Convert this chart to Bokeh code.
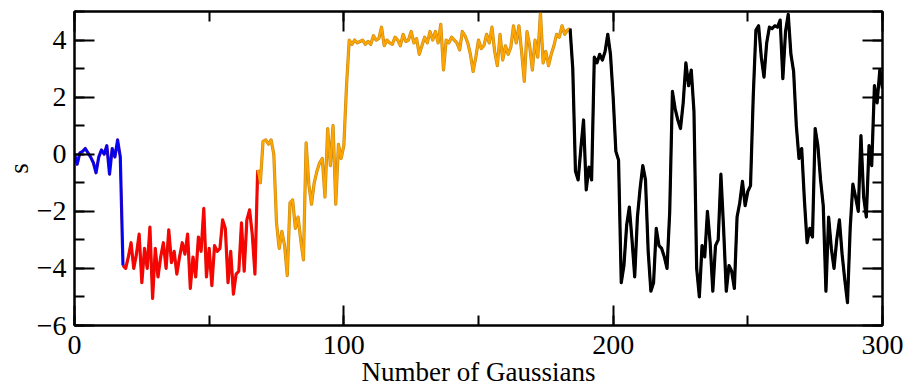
from bokeh.plotting import figure
from bokeh.models import Range1d, SingleIntervalTicker, LinearAxis, CustomJSTickFormatter
from bokeh.embed import file_html
from bokeh.resources import INLINE

x_blue = list(range(0, 19))
s_blue = [0.0, -0.35, 0.05, 0.1, 0.2, 0.05, -0.1, -0.3, -0.65, -0.1, 0.15, 0.0, 0.3, -0.7, 0.2, -0.1, 0.5, -0.1, -3.9]

x_red = list(range(18, 69))
s_red = [-3.9, -4.0, -3.6, -3.1, -4.0, -3.5, -2.8, -4.5, -3.3, -4.0,
         -2.55, -5.05, -3.3, -4.3, -3.6, -3.1, -4.0, -2.65, -3.8, -3.4,
         -4.2, -3.6, -3.1, -3.5, -2.8, -4.7, -3.6, -4.3, -2.9, -3.4,
         -1.9, -4.3, -3.3, -4.6, -3.2, -3.4, -3.3, -2.3, -2.6, -4.5,
         -3.4, -4.9, -4.2, -4.1, -2.4, -4.1, -2.3, -1.95, -2.8, -4.2,
         -0.55]

x_orange = list(range(68, 185))
s_orange = [-0.55, -1.0, 0.45, 0.5, 0.35, 0.5, 0.0, -2.4, -3.3, -2.7,
            -3.2, -4.25, -1.7, -1.6, -2.6, -2.2, -3.0, -3.7, 0.4, -1.05,
            -1.75, -1.0, -0.6, -0.3, -0.15, -1.5, 0.9, -0.4, 1.0, -1.75,
            0.35, -0.15, 0.3, 2.4, 4.0, 3.85, 4.0, 3.9, 3.95, 4.0,
            3.85, 3.95, 3.85, 4.15, 4.0, 4.05, 4.45, 3.8, 4.0, 3.9,
            3.85, 4.1, 4.0, 3.8, 4.2, 3.95, 4.0, 4.3, 3.9, 4.05,
            3.5, 3.8, 4.1, 3.9, 4.3, 4.0, 4.3, 3.9, 4.55, 2.95,
            4.0, 3.9, 4.1, 4.0, 3.9, 3.65, 4.3, 4.15, 3.9, 3.5,
            2.9, 3.4, 4.0, 3.7, 3.8, 4.2, 3.9, 4.45, 3.6, 3.1,
            4.2, 3.3, 3.8, 3.5, 3.75, 4.5, 3.9, 4.5, 3.6, 2.55,
            4.3, 3.8, 2.95, 4.0, 3.4, 4.95, 3.2, 3.6, 3.1, 3.5,
            3.8, 4.2, 4.1, 4.5, 4.2, 4.35, 4.4]

x_black = list(range(184, 301))
s_black = [4.4, 3.0, -0.6, -0.9, 0.2, 1.2, -1.25, -0.45, -0.9, 3.4,
           3.2, 3.5, 3.3, 3.6, 4.2, 3.5, 2.0, 0.1, -0.2, -4.5,
           -3.9, -2.5, -1.85, -3.0, -4.3, -2.2, -1.2, -0.4, -0.9, -3.4,
           -4.8, -4.5, -2.6, -3.2, -3.3, -3.6, -4.0, -2.0, 2.2, 1.6,
           1.2, 0.9, 1.8, 3.2, 2.4, 2.95, 1.5, -4.0, -5.0, -3.2,
           -3.6, -2.0, -3.1, -4.8, -3.2, -3.0, -0.7, -2.6, -4.8, -3.9,
           -4.1, -4.7, -2.2, -1.7, -0.95, -1.8, -1.3, -1.1, 2.0, 4.35,
           4.5, 3.4, 2.7, 3.9, 4.45, 4.4, 4.5, 4.45, 4.7, 2.65,
           4.3, 4.9, 3.5, 2.9, 1.0, -0.15, 0.2, -1.6, -3.1, -2.6,
           -2.9, 0.9, 0.3, -0.9, -1.8, -4.8, -2.2, -3.3, -4.0, -3.0,
           -2.3, -3.5, -4.4, -5.2, -2.6, -1.05, -1.5, -2.0, 0.65, -1.5,
           -2.2, 0.3, -0.4, 2.4, 1.8, 2.95, 2.3]

x_label = "Number of Gaussians"
y_label = "s"

FONT = "Liberation Serif"

p = figure(width=908, height=389, output_backend="svg", toolbar_location=None,
           x_range=Range1d(0, 300), y_range=Range1d(-6, 5),
           min_border_left=72, min_border_right=26, min_border_top=11, min_border_bottom=58)
p.grid.visible = False
p.background_fill_color = "white"
p.border_fill_color = "white"
p.outline_line_color = "black"
p.outline_line_width = 2

series = [(x_blue, s_blue, "#0000ff", "#3a10a0"), (x_red, s_red, "#ff0000", "#d81a10"),
          (x_orange, s_orange, "#ffa500", "#c48a1c"), (x_black, s_black, "#000000", "#000000")]
for xs, ys, col, edge in series:
    p.line(xs, ys, line_color=edge, line_width=3.2, line_join="round")
for xs, ys, col, edge in series:
    p.line(xs, ys, line_color=col, line_width=2.0, line_join="round")

def style(ax, show_labels):
    ax.major_tick_in = 20
    ax.major_tick_out = 0
    ax.minor_tick_in = 10
    ax.minor_tick_out = 0
    ax.major_tick_line_width = 2
    ax.minor_tick_line_width = 2
    ax.axis_line_width = 2
    ax.major_tick_line_color = "black"
    ax.minor_tick_line_color = "black"
    ax.axis_line_color = "black"
    ax.major_label_text_font = FONT
    ax.axis_label_text_font = FONT
    ax.axis_label_text_font_style = "normal"
    ax.major_label_text_color = "black"
    ax.axis_label_text_color = "black"
    if show_labels:
        ax.major_label_text_font_size = "28px"
        ax.axis_label_text_font_size = "27px"
    else:
        ax.major_label_text_font_size = "0px"
        ax.major_label_standoff = 0
        ax.formatter = CustomJSTickFormatter(code="return ''")

p.xaxis.ticker = SingleIntervalTicker(interval=100, num_minor_ticks=2)
p.yaxis.ticker = SingleIntervalTicker(interval=2, num_minor_ticks=2)
p.xaxis.axis_label = x_label
p.yaxis.axis_label = y_label
style(p.xaxis[0], True)
style(p.yaxis[0], True)
p.xaxis.major_label_standoff = 10
p.xaxis.axis_label_standoff = 0
p.yaxis.major_label_standoff = 8
p.yaxis.axis_label_standoff = 0

top = LinearAxis(ticker=SingleIntervalTicker(interval=100, num_minor_ticks=2))
style(top, False)
p.add_layout(top, "above")
right = LinearAxis(ticker=SingleIntervalTicker(interval=2, num_minor_ticks=2))
style(right, False)
p.add_layout(right, "right")

open("out.html", "w").write(file_html(p, INLINE))
